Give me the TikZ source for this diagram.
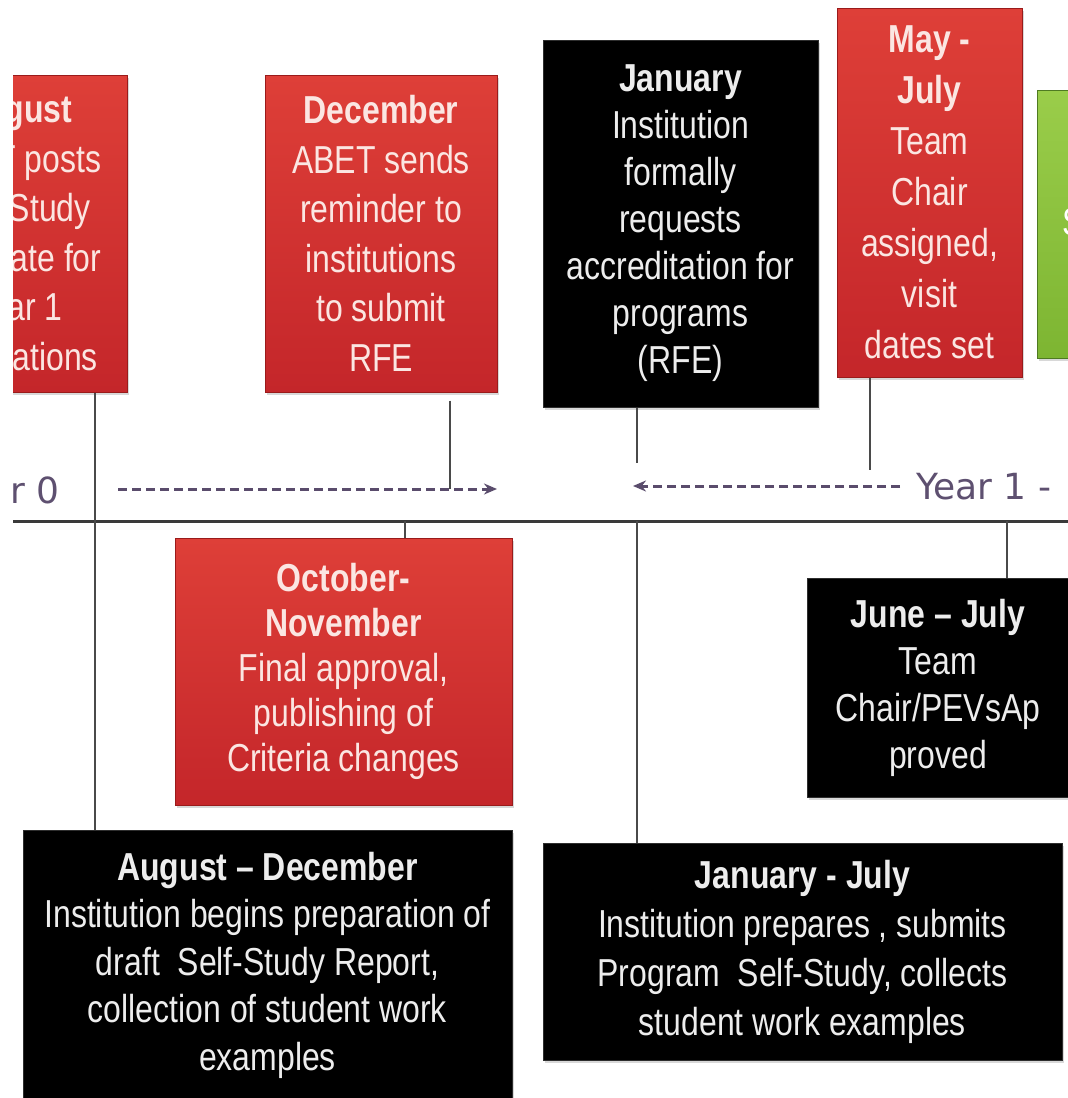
\documentclass[tikz,border=0pt]{standalone}
\usepackage{fontspec}
\setmainfont{Liberation Sans}[FakeStretch=0.82]
\newfontfamily\yearfont{DejaVu Sans}
\usepackage{tikz}
\usetikzlibrary{arrows.meta,shadows}

\begin{document}
\begin{tikzpicture}[x=1pt, y=-1pt,
        every node/.style={inner sep=4pt, align=center, font=\fontsize{39}{48}\selectfont},
        linegap/.style={font=\fontsize{39}{#1}\selectfont},
        redbox/.style={draw=redEdge, line width=1pt, top color=redTop, bottom color=redBot, text=redText,
            drop shadow={shadow xshift=2pt, shadow yshift=-3pt, opacity=0.3}},
        blackbox/.style={draw=blackEdge, line width=1pt, fill=black, text=blackText,
            drop shadow={shadow xshift=2pt, shadow yshift=-3pt, opacity=0.3}},
        greenbox/.style={draw=greenEdge, line width=1pt, top color=greenTop, bottom color=greenBot,
            drop shadow={shadow xshift=2pt, shadow yshift=-3pt, opacity=0.3}},
        yeartxt/.style={inner sep=2pt, text=yearPurple, font=\yearfont\fontsize{36}{40}\selectfont},
        tick/.style={draw=tickGray, line width=2.5pt},
        axis/.style={draw=axisGray, line width=3pt},
        span/.style={draw=spanPurple, line width=3pt, dash pattern=on 9pt off 5pt, -{Stealth[length=13pt,width=11pt]}}]
        % Define the colors
        \definecolor{redTop}{HTML}{DE3F38}
        \definecolor{redBot}{HTML}{C4262A}
        \definecolor{redEdge}{HTML}{9A1B1B}
        \definecolor{redText}{HTML}{FBE6E2}
        \definecolor{blackEdge}{HTML}{2E2E2E}
        \definecolor{blackText}{HTML}{EDEDED}
        \definecolor{greenTop}{HTML}{9ACD4A}
        \definecolor{greenBot}{HTML}{7DB532}
        \definecolor{greenEdge}{HTML}{4F7A22}
        \definecolor{tickGray}{HTML}{4A4A4A}
        \definecolor{axisGray}{HTML}{3A3A3A}
        \definecolor{spanPurple}{HTML}{5A4C6C}
        \definecolor{yearPurple}{HTML}{5E5070}

        % Fix the frame and cut off what lies outside it
        \useasboundingbox (0,0) rectangle (1068,1098);
        \fill[white] (0,0) rectangle (1068,1098);
        \clip (13,0) rectangle (1068,1098);

        % Points on the timeline and on the dashed spans
        \coordinate (tlStart) at (13,521);
        \coordinate (tlEnd) at (1068,521);
        \coordinate (augTick) at (95,521);
        \coordinate (decTick) at (450,489);
        \coordinate (janTick) at (637,463);
        \coordinate (janLow) at (637,521);
        \coordinate (mayTick) at (870,470);
        \coordinate (octTick) at (405,521);
        \coordinate (junTick) at (1007,521);
        \coordinate (spanAStart) at (118,489);
        \coordinate (spanAEnd) at (497,489);
        \coordinate (spanBStart) at (900,486);
        \coordinate (spanBEnd) at (633,486);

        % Draw the timeline
        \draw[axis] (tlStart) -- (tlEnd);

        % Draw the boxes above the timeline
        \node[redbox, minimum width=220, minimum height=317, linegap=49.5] (augPost) at (17,233.5) {\textbf{August}\\ABET posts\\Self-Study\\template for\\Year 1\\evaluations};
        \node[redbox, minimum width=232, minimum height=317, linegap=49.5] (decRem) at (381,233.5) {\textbf{December}\\ABET sends\\reminder to\\institutions\\to submit\\RFE};
        \node[blackbox, minimum width=275, minimum height=367, linegap=47] (janReq) at (680.5,223.5) {\textbf{January}\\Institution\\formally\\requests\\accreditation for\\programs\\(RFE)};
        \node[redbox, minimum width=185, minimum height=369, linegap=51] (mayJul) at (929.5,192.5) {\textbf{May -}\\\textbf{July}\\Team\\Chair\\assigned,\\visit\\dates set};
        \node[greenbox, minimum width=120, minimum height=268] (greenBox) at (1097,224) {};
        \node[text=white, anchor=west] (greenTxt) at (1058,222) {S};

        % Draw the boxes below the timeline
        \node[redbox, minimum width=337, minimum height=267, linegap=45] (octNov) at (343.5,671.5) {\textbf{October-}\\\textbf{November}\\Final approval,\\publishing of\\Criteria changes};
        \node[blackbox, minimum width=262, minimum height=219, linegap=47] (junJul) at (938,687.5) {\textbf{June – July}\\Team\\Chair/PEVsAp\\proved};
        \node[blackbox, minimum width=489, minimum height=270, linegap=47.5] (augDec) at (267.5,965) {\textbf{August – December}\\Institution begins preparation of\\draft\ \ Self-Study Report,\\collection of student work\\examples};
        \node[blackbox, minimum width=519, minimum height=217, linegap=49] (janJul) at (802.5,951.5) {\textbf{January - July}\\Institution prepares , submits\\Program\ \ Self-Study, collects\\student work examples};

        % Year labels
        \node[yeartxt, anchor=east] (yearZero) at (62,490) {Year 0};
        \node[yeartxt, anchor=west] (yearOne) at (914,487) {Year 1 -};

        % Draw the ticks from the boxes to the timeline
        \draw[tick] (augPost.south -| augTick) -- (augDec.north -| augTick);
        \draw[tick, shorten <=8pt] (decRem.south -| decTick) -- (decTick);
        \draw[tick] (janReq.south -| janTick) -- (janTick);
        \draw[tick] (janLow) -- (janJul.north -| janLow);
        \draw[tick] (mayJul.south -| mayTick) -- (mayTick);
        \draw[tick] (octTick) -- (octNov.north -| octTick);
        \draw[tick] (junTick) -- (junJul.north -| junTick);

        % Draw the dashed spans
        \draw[span] (spanAStart) -- (spanAEnd);
        \draw[span] (spanBStart) -- (spanBEnd);
\end{tikzpicture}
\end{document}
